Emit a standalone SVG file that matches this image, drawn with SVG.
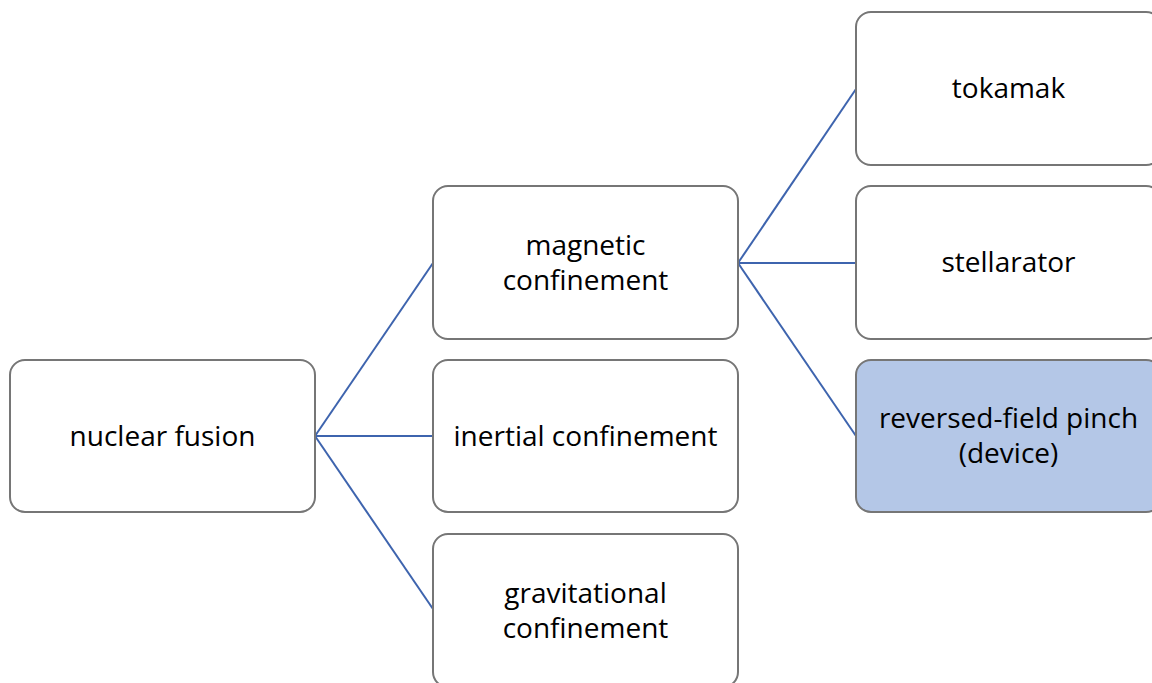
<svg xmlns="http://www.w3.org/2000/svg" width="1152" height="683" viewBox="0 0 1152 683">
<style>
.box{fill:#ffffff;stroke:#767676;stroke-width:2}
.hl{fill:#b4c7e7}
.lbl{font-family:"Open Sans","Noto Sans",sans-serif;font-size:28px;fill:#000;text-anchor:middle}
.conn{stroke:#3e64ae;stroke-width:2;fill:none}
</style>
<rect width="1152" height="683" fill="#ffffff"/>
<g id="connectors">
<line class="conn" x1="315" y1="436" x2="433" y2="263"/>
<line class="conn" x1="315" y1="436" x2="433" y2="436"/>
<line class="conn" x1="315" y1="436" x2="433" y2="609"/>
<line class="conn" x1="738" y1="263" x2="856" y2="89"/>
<line class="conn" x1="738" y1="263" x2="856" y2="263"/>
<line class="conn" x1="738" y1="263" x2="856" y2="436"/>
</g>
<g id="nuclear-fusion">
<rect class="box" x="10" y="360" width="305" height="152" rx="15"/>
<text class="lbl" x="162.5" y="446">nuclear fusion</text>
</g>
<g id="magnetic-confinement">
<rect class="box" x="433" y="186" width="305" height="153" rx="15"/>
<text class="lbl" x="585.5" y="255">magnetic</text>
<text class="lbl" x="585.5" y="290">confinement</text>
</g>
<g id="inertial-confinement">
<rect class="box" x="433" y="360" width="305" height="152" rx="15"/>
<text class="lbl" x="585.5" y="446">inertial confinement</text>
</g>
<g id="gravitational-confinement">
<rect class="box" x="433" y="534" width="305" height="153" rx="15"/>
<text class="lbl" x="585.5" y="603">gravitational</text>
<text class="lbl" x="585.5" y="638">confinement</text>
</g>
<g id="tokamak">
<rect class="box" x="856" y="12" width="305" height="153" rx="15"/>
<text class="lbl" x="1008.5" y="98">tokamak</text>
</g>
<g id="stellarator">
<rect class="box" x="856" y="186" width="305" height="153" rx="15"/>
<text class="lbl" x="1008.5" y="272">stellarator</text>
</g>
<g id="reversed-field-pinch">
<rect class="box hl" x="856" y="360" width="305" height="152" rx="15"/>
<text class="lbl" x="1008.5" y="428">reversed-field pinch</text>
<text class="lbl" x="1008.5" y="463">(device)</text>
</g>
</svg>
